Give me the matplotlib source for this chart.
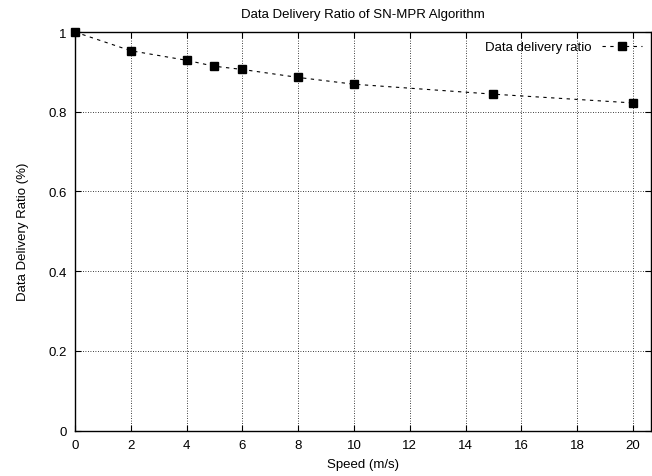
import matplotlib
matplotlib.use("Agg")
import matplotlib.pyplot as plt

plt.rcParams['font.family'] = ['Liberation Sans', 'DejaVu Sans']

speed = [0, 2, 4, 5, 6, 8, 10, 15, 20]
ratio = [1.0, 0.953, 0.929, 0.914, 0.906, 0.886, 0.869, 0.844, 0.822]
xticks = [0, 2, 4, 6, 8, 10, 12, 14, 16, 18, 20]
yticks = [0, 0.2, 0.4, 0.6, 0.8, 1.0]
ytick_labels = ['0', '0.2', '0.4', '0.6', '0.8', '1']

fs = 9.5
fig = plt.figure(figsize=(6.52, 4.77), dpi=100)
ax = fig.add_axes([75/652, 1-431.5/477, (651-75)/652, (431.5-33)/477])

ax.plot(speed, ratio, color='black', linestyle=(0, (3, 4)), linewidth=0.8,
        marker='s', markersize=6, markerfacecolor='black', markeredgecolor='black',
        label='Data delivery ratio', clip_on=False, zorder=3)

ax.set_xlim(0, 20.65)
ax.set_ylim(0, 1)
ax.set_xticks(xticks)
ax.set_yticks(yticks)
ax.set_yticklabels(ytick_labels)
ax.grid(True, color='black', linestyle=(0, (1, 2)), linewidth=0.6)
ax.tick_params(direction='in', top=True, right=True, length=4, width=0.8, labelsize=fs, pad=6)
for s in ax.spines.values():
    s.set_linewidth(1.0)

ax.set_xlabel('Speed (m/s)', fontsize=fs, labelpad=5)
ax.set_ylabel('Data Delivery Ratio (%)', fontsize=fs, labelpad=14)
ax.set_title('Data Delivery Ratio of SN-MPR Algorithm', fontsize=fs, pad=11)

leg = ax.legend(loc='upper right', frameon=False, fontsize=fs, handlelength=3.0,
                markerfirst=False, borderaxespad=0.3, handletextpad=0.8)

fig.savefig('out.png', dpi=100)
